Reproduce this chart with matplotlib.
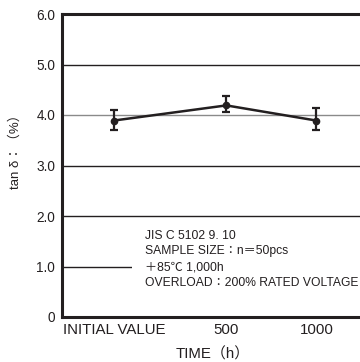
import matplotlib
matplotlib.use("Agg")
import matplotlib.pyplot as plt

plt.rcParams["font.family"] = ["Liberation Sans", "Noto Sans CJK JP", "DejaVu Sans"]

DARK = "#231f20"
GREY = "#8a8a8a"

CATEGORIES = ["INITIAL VALUE", "500", "1000"]
X_POS = [0.0, 1.0, 1.8]
TAN_DELTA = [3.89, 4.19, 3.89]
ERR_LOW = [3.71, 4.05, 3.71]
ERR_HIGH = [4.10, 4.37, 4.14]

Y_TICKS = [0, 1.0, 2.0, 3.0, 4.0, 5.0, 6.0]
Y_LABELS = ["0", "1.0", "2.0", "3.0", "4.0", "5.0", "6.0"]
NOTE_LINES = [
    "JIS C 5102 9. 10",
    "SAMPLE SIZE：n＝50pcs",
    "＋85℃ 1,000h",
    "OVERLOAD：200% RATED VOLTAGE",
]


def make_chart():
    fig = plt.figure(figsize=(3.6, 3.62), dpi=100)
    ax = fig.add_axes([62 / 360, 1 - 317 / 362, 1 - 62 / 360 + 0.01, (317 - 14) / 362])

    # horizontal reference lines; the 1.0 line sits under the note box
    for y in Y_TICKS[1:-1]:
        color = GREY if y == 4.0 else DARK
        z = 1 if y == 1.0 else 2.5
        ax.axhline(y, color=color, linewidth=1.0, zorder=z)

    lower = [v - lo for v, lo in zip(TAN_DELTA, ERR_LOW)]
    upper = [hi - v for v, hi in zip(TAN_DELTA, ERR_HIGH)]
    ax.errorbar(
        X_POS, TAN_DELTA, yerr=[lower, upper],
        color=DARK, linewidth=1.8, marker="o", markersize=4.5,
        capsize=3, capthick=1.6, elinewidth=1.6, zorder=3,
    )

    ax.text(
        0.275, 1.73, "\n".join(NOTE_LINES), fontsize=8.7, color=DARK,
        va="top", ha="left", linespacing=1.42, zorder=2,
        bbox=dict(boxstyle="square,pad=1.05", facecolor="white", edgecolor="none"),
    )

    ax.set_xlim(-0.46, 2.22)
    ax.set_ylim(0, 6.0)
    ax.set_xticks(X_POS)
    ax.set_xticklabels(CATEGORIES)
    ax.set_yticks(Y_TICKS)
    ax.set_yticklabels(Y_LABELS)
    ax.tick_params(length=0, labelsize=9.8, colors=DARK, pad=5)
    ax.tick_params(axis="x", labelsize=10.8, pad=4)

    for side in ["left", "top", "bottom"]:
        ax.spines[side].set_linewidth(2.2)
        ax.spines[side].set_color(DARK)
    ax.spines["right"].set_visible(False)

    ax.set_ylabel("tan δ：（%）", fontsize=9.5, color=DARK)
    ax.yaxis.set_label_coords(-0.135, 0.555)
    ax.set_xlabel("TIME（h）", fontsize=10.8, color=DARK, labelpad=8)

    fig.savefig("out.png", dpi=100)
    plt.close(fig)


if __name__ == "__main__":
    make_chart()
